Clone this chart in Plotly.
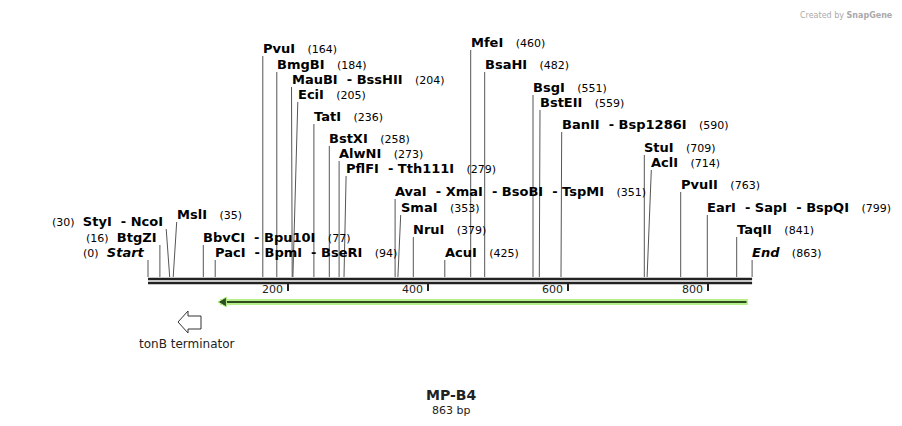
import plotly.graph_objects as go

seq_len = 863
seq_name = "MP-B4"

# label text, number shown, site (bp), label row (y px), label start (bp)
enzymes = ["PvuI", "BmgBI", "MauBI &nbsp;- BssHII", "EciI", "TatI", "BstXI", "AlwNI",
           "PflFI &nbsp;- Tth111I", "AvaI &nbsp;- XmaI &nbsp;- BsoBI &nbsp;- TspMI", "SmaI", "NruI", "AcuI",
           "MfeI", "BsaHI", "BsgI", "BstEII", "BanII &nbsp;- Bsp1286I", "StuI", "AclI",
           "PvuII", "EarI &nbsp;- SapI &nbsp;- BspQI", "TaqII", "<i>End</i>",
           "BbvCI &nbsp;- Bpu10I", "PacI &nbsp;- BpmI &nbsp;- BseRI", "MslI"]
numbers = [164, 184, 204, 205, 236, 258, 273, 279, 351, 353, 379, 425,
           460, 482, 551, 559, 590, 709, 714, 763, 799, 841, 863, 77, 94, 35]
sites = [164, 184, 206, 207, 237, 259, 273, 280, 353, 357, 379, 424,
         461, 481, 550, 559, 590, 709, 713, 761, 799, 841, 863, 79, 96, 36]
rows = [48, 64, 79, 94, 116, 138, 153, 168, 191, 207, 229, 252,
        42, 64, 87, 102, 124, 147, 162, 184, 207, 229, 252, 237, 252, 214]
label_at = [164, 184, 205, 214, 237, 259, 273, 283, 353, 361, 379, 424,
            461, 481, 550, 560, 591, 709, 719, 761, 799, 841, 863, 79, 96, 41]

# labels placed to the left of the site
left_enz = ["StyI &nbsp;- NcoI", "BtgZI", "<i>Start</i>"]
left_num = [30, 16, 0]
left_site = [31, 17, 0]
left_row = [221, 237, 252]
left_end = [26, 17, 0]

ticks = [200, 400, 600, 800]

px0, scale = 148, 0.7
def bp(px):
    return (px - px0) / scale

fig = go.Figure()
shapes, ann = [], []
font_b = dict(family="DejaVu Sans", size=13, color="black")
base_y = 277

for name, num, s, r, lx in zip(enzymes, numbers, sites, rows, label_at):
    shapes.append(dict(type="line", x0=s, x1=lx, y0=base_y, y1=r + 8,
                       line=dict(color="#555", width=1)))
    ann.append(dict(x=lx, y=r, xanchor="left", yanchor="middle", xshift=-2,
                    text="<b>%s</b>&nbsp;&nbsp;&nbsp;<span style='font-size:11px'>(%d)</span>" % (name, num),
                    showarrow=False, font=font_b))

for name, num, s, r, lx in zip(left_enz, left_num, left_site, left_row, left_end):
    shapes.append(dict(type="line", x0=s, x1=lx, y0=base_y, y1=r + 8,
                       line=dict(color="#555", width=1)))
    ann.append(dict(x=lx, y=r, xanchor="right", yanchor="middle", xshift=-1,
                    text="<span style='font-size:11px'>(%d)</span>&nbsp;&nbsp;<b>%s</b>" % (num, name),
                    showarrow=False, font=font_b))

# backbone
for yy in (279, 283):
    shapes.append(dict(type="line", x0=0, x1=seq_len, y0=yy, y1=yy,
                       line=dict(color="#222", width=2.5)))
for t in ticks:
    shapes.append(dict(type="line", x0=t, x1=t, y0=284, y1=291,
                       line=dict(color="#222", width=2)))
    ann.append(dict(x=t, y=289, xanchor="right", yanchor="middle", xshift=-3, text=str(t),
                    showarrow=False, font=dict(family="DejaVu Sans", size=11, color="#222")))

# feature arrow (reverse)
feat_start, feat_end = 100, 857
shapes.append(dict(type="line", x0=feat_start + 3, x1=feat_end, y0=302, y1=302,
                   line=dict(color="#b6f08a", width=6)))
shapes.append(dict(type="line", x0=feat_start + 3, x1=feat_end - 2, y0=302, y1=302,
                   line=dict(color="#2f4d1f", width=2)))
shapes.append(dict(type="path",
                   path="M %f 302 L %f 297 L %f 307 Z" % (feat_start, feat_start + 12, feat_start + 12),
                   fillcolor="#2f4d1f", line=dict(color="#b6f08a", width=1)))

# terminator open arrow
x1, x2, x3 = bp(178), bp(188), bp(201)
shapes.append(dict(type="path",
                   path="M %f 322 L %f 311 L %f 316 L %f 316 L %f 329 L %f 329 L %f 333 Z"
                   % (x1, x2, x2, x3, x3, x2, x2),
                   fillcolor="white", line=dict(color="#333", width=1)))
ann.append(dict(x=bp(187), y=344, text="tonB terminator", showarrow=False,
                font=dict(family="DejaVu Sans", size=12, color="#222")))

ann.append(dict(x=bp(451), y=395, text="<b>%s</b>" % seq_name, showarrow=False,
                font=dict(family="DejaVu Sans", size=14, color="#222")))
ann.append(dict(x=bp(451), y=410, text="%d bp" % seq_len, showarrow=False,
                font=dict(family="DejaVu Sans", size=11, color="#222")))
ann.append(dict(x=bp(895), y=15, xanchor="right", yanchor="middle",
                text="Created by <b>SnapGene</b>", showarrow=False,
                font=dict(family="DejaVu Sans", size=8, color="#aaa")))

# page body has an 8px offset; shift ranges to compensate
fig.update_layout(width=902, height=426, margin=dict(l=0, r=0, t=0, b=0),
                  plot_bgcolor="white", paper_bgcolor="white",
                  shapes=shapes, annotations=ann, showlegend=False,
                  xaxis=dict(range=[bp(8), bp(910)], visible=False),
                  yaxis=dict(range=[434, 8], visible=False))
fig.write_html("out.html")
